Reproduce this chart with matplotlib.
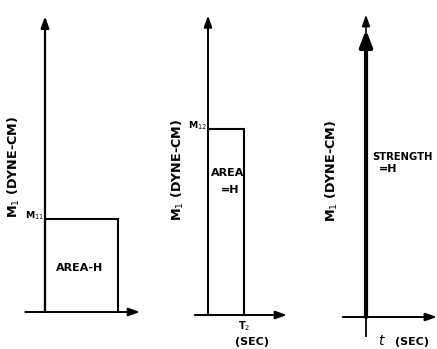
import matplotlib.pyplot as plt

W, H = 437, 349          # figure size in pixels
sx, sy = 73.0, 93.0      # pixels per unit of time / moment

# rectangular pulses: time (units of T) and moment (units of M11), area = H
t_pulse1 = [0, 0, 1.0, 1.0]
m_pulse1 = [0, 1.0, 1.0, 0]
t_pulse2 = [0, 0, 0.5, 0.5]
m_pulse2 = [0, 2.0, 2.0, 0]
# impulse of strength H at t = 0 (drawn height)
t_imp = 0.0
m_imp = 3.09

ylabels = ['M$_1$ (DYNE-CM)', 'M$_1$ (DYNE-CM)', 'M$_1$ (DYNE-CM)']
level_labels = ['M$_{11}$', 'M$_{12}$']

plt.rcParams['font.family'] = ['DejaVu Sans']
FS = 8
fig = plt.figure(figsize=(W / 100, H / 100), dpi=100)


def panel(ox, oy):
    # ox, oy: pixel position of the origin
    ax = fig.add_axes([0, 0, 1, 1])
    ax.set_xlim(-ox / sx, (W - ox) / sx)
    ax.set_ylim((oy - H) / sy, oy / sy)
    ax.axis('off')
    return ax


def arrow(ax, x0, y0, x1, y1, lw=1.2, style='-|>,head_length=0.45,head_width=0.16', ms=15):
    ax.annotate('', xy=(x1, y1), xytext=(x0, y0),
                arrowprops=dict(arrowstyle=style, lw=lw, color='black',
                                shrinkA=0, shrinkB=0, mutation_scale=ms))


# panel 1
ax = panel(45, 312)
arrow(ax, 0, 0, 0, 3.18, lw=1.6)
arrow(ax, -0.27, 0, 1.30, 0, lw=1.4)
ax.plot(t_pulse1, m_pulse1, color='black', lw=1.5, solid_joinstyle='miter')
ax.text(0.48, 0.47, 'AREA-H', fontsize=FS, fontweight='bold', ha='center', va='center')
ax.text(-0.43, 1.56, ylabels[0], fontsize=FS + 1.2, fontweight='bold', rotation=90,
        ha='center', va='center')
ax.text(-0.02, 1.03, level_labels[0], fontsize=FS - 1.3, fontweight='bold', ha='right', va='center')

# panel 2
ax = panel(208, 315)
arrow(ax, 0, 0, 0, 3.22, lw=1.4)
arrow(ax, -0.18, 0, 1.08, 0, lw=1.4)
ax.plot(t_pulse2, m_pulse2, color='black', lw=1.5, solid_joinstyle='miter')
ax.text(0.27, 1.53, 'AREA', fontsize=FS, fontweight='bold', ha='center', va='center')
ax.text(0.30, 1.34, '=H', fontsize=FS, fontweight='bold', ha='center', va='center')
ax.text(-0.41, 1.56, ylabels[1], fontsize=FS + 1.2, fontweight='bold', rotation=90,
        ha='center', va='center')
ax.text(-0.02, 2.04, level_labels[1], fontsize=FS - 1.3, fontweight='bold', ha='right', va='center')
ax.text(0.5, -0.12, 'T$_2$', fontsize=FS - 1, fontweight='bold', ha='center', va='center')
ax.text(0.60, -0.29, '(SEC)', fontsize=FS, fontweight='bold', ha='center', va='center')

# panel 3
ax = panel(366, 317)
ax.plot([0, 0], [-0.2, 0], color='black', lw=1.3)
arrow(ax, 0, 0, 0, 3.25, lw=1.2)
arrow(ax, t_imp, 0, t_imp, m_imp, lw=3.0, style='-|>,head_length=0.65,head_width=0.25', ms=15)
arrow(ax, -0.32, 0, 0.97, 0, lw=1.4)
ax.text(0.08, 1.72, 'STRENGTH', fontsize=FS - 0.8, fontweight='bold', ha='left', va='center')
ax.text(0.30, 1.59, '=H', fontsize=FS, fontweight='bold', ha='center', va='center')
ax.text(-0.47, 1.57, ylabels[2], fontsize=FS + 1.2, fontweight='bold', rotation=90,
        ha='center', va='center')
ax.text(0.22, -0.26, '$t$', fontsize=FS + 2, fontweight='bold', ha='center', va='center')
ax.text(0.63, -0.27, '(SEC)', fontsize=FS, fontweight='bold', ha='center', va='center')

fig.savefig('out.png', dpi=100)
